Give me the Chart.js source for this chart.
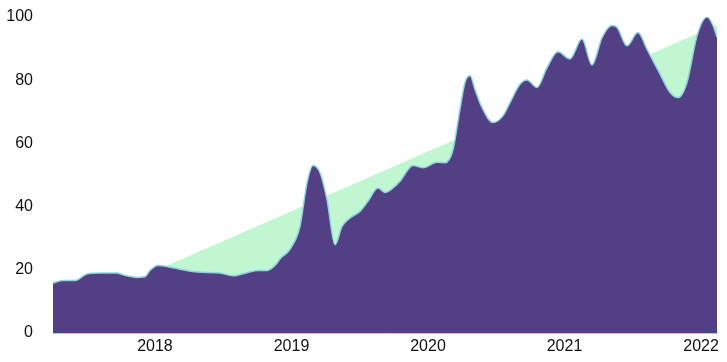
<!DOCTYPE html>
<html>
<head>
<meta charset="utf-8">
<script src="https://cdn.jsdelivr.net/npm/chart.js@4.4.1/dist/chart.umd.min.js"></script>
<style>
  html, body { margin: 0; padding: 0; background: #fff; }
  #wrap { width: 727px; height: 362px; }
</style>
</head>
<body>
<div id="wrap"><canvas id="trend"></canvas></div>
<script>
// decimal years
var dates = [2017.253, 2017.326, 2017.414, 2017.502, 2017.597, 2017.722, 2017.766, 2017.868, 2017.927, 2017.963,
  2018.022, 2018.095, 2018.205, 2018.308, 2018.476, 2018.571, 2018.674, 2018.755, 2018.821, 2018.894,
  2018.916, 2018.989, 2019.062, 2019.114, 2019.158, 2019.209, 2019.260, 2019.319, 2019.370, 2019.429,
  2019.502, 2019.560, 2019.634, 2019.685, 2019.744, 2019.795, 2019.890, 2019.963, 2020.066, 2020.125,
  2020.183, 2020.234, 2020.271, 2020.308, 2020.344, 2020.396, 2020.476, 2020.549, 2020.601, 2020.674,
  2020.725, 2020.799, 2020.872, 2020.952, 2021.040, 2021.128, 2021.201, 2021.275, 2021.348, 2021.385,
  2021.458, 2021.538, 2021.604, 2021.700, 2021.773, 2021.832, 2021.897, 2021.971, 2022.044, 2022.088,
  2022.117];
var interest = [15.8, 16.6, 16.6, 18.7, 19.0, 19.0, 18.4, 17.6, 17.8, 19.8,
  21.4, 21.0, 20.0, 19.3, 19.0, 18.1, 19.1, 19.8, 19.8, 22.1,
  23.5, 26.5, 33.7, 47.5, 53.0, 50.7, 42.2, 27.9, 33.7, 36.4,
  38.5, 41.7, 45.9, 44.5, 45.9, 48.0, 53.0, 52.3, 54.0, 53.9,
  58.0, 70.8, 79.3, 81.4, 77.1, 71.3, 66.6, 68.7, 72.9, 78.7,
  80.1, 77.7, 84.0, 89.0, 86.7, 93.0, 84.8, 93.5, 97.3, 96.7,
  90.9, 95.1, 89.8, 81.9, 76.1, 74.5, 79.3, 94.1, 100.0, 97.3,
  93.6];
var trendDates = [2017.253, 2022.117];
var trendValues = [5.5, 97.5];
var yearTicks = [2018, 2019, 2020, 2021, 2022];

function toPoints(xs, ys) {
  return xs.map(function (x, i) { return { x: x, y: ys[i] }; });
}

var ctx = document.getElementById('trend').getContext('2d');
new Chart(ctx, {
  type: 'line',
  data: {
    datasets: [{
      label: 'Interest',
      data: toPoints(dates, interest),
      backgroundColor: '#523f84',
      borderColor: '#8fd3df',
      borderWidth: 1.5,
      fill: 'origin',
      pointRadius: 0,
      cubicInterpolationMode: 'monotone',
      order: 0
    }, {
      label: 'Trend',
      data: toPoints(trendDates, trendValues),
      backgroundColor: '#c1f6d3',
      borderWidth: 0,
      fill: 'origin',
      pointRadius: 0,
      tension: 0,
      order: 1
    }]
  },
  options: {
    responsive: true,
    maintainAspectRatio: false,
    animation: false,
    layout: { padding: { top: 17, right: 10, left: 0, bottom: 0 } },
    plugins: { legend: { display: false }, tooltip: { enabled: false } },
    scales: {
      x: {
        type: 'linear',
        min: dates[0],
        max: dates[dates.length - 1],
        grid: { display: false, drawTicks: false },
        border: { display: true, color: '#9fd6e3', width: 1 },
        afterBuildTicks: function (s) {
          s.ticks = yearTicks.map(function (v) { return { value: v }; });
        },
        afterFit: function (s) { s.height = 29; },
        ticks: {
          autoSkip: false,
          maxRotation: 0,
          padding: 4,
          color: '#111',
          font: { family: 'Liberation Sans, Arial, sans-serif', size: 16 },
          callback: function (v) { return String(v); }
        }
      },
      y: {
        min: 0,
        max: 100,
        grid: { display: false, drawTicks: false },
        border: { display: false },
        afterFit: function (s) {
          s.width = 53;
          // the tick padding would otherwise push the plot down
          s.paddingTop = 8;
          s.paddingBottom = 0;
        },
        ticks: {
          stepSize: 20,
          padding: 20,
          color: '#111',
          font: { family: 'Liberation Sans, Arial, sans-serif', size: 16 }
        }
      }
    }
  }
});
</script>
</body>
</html>
